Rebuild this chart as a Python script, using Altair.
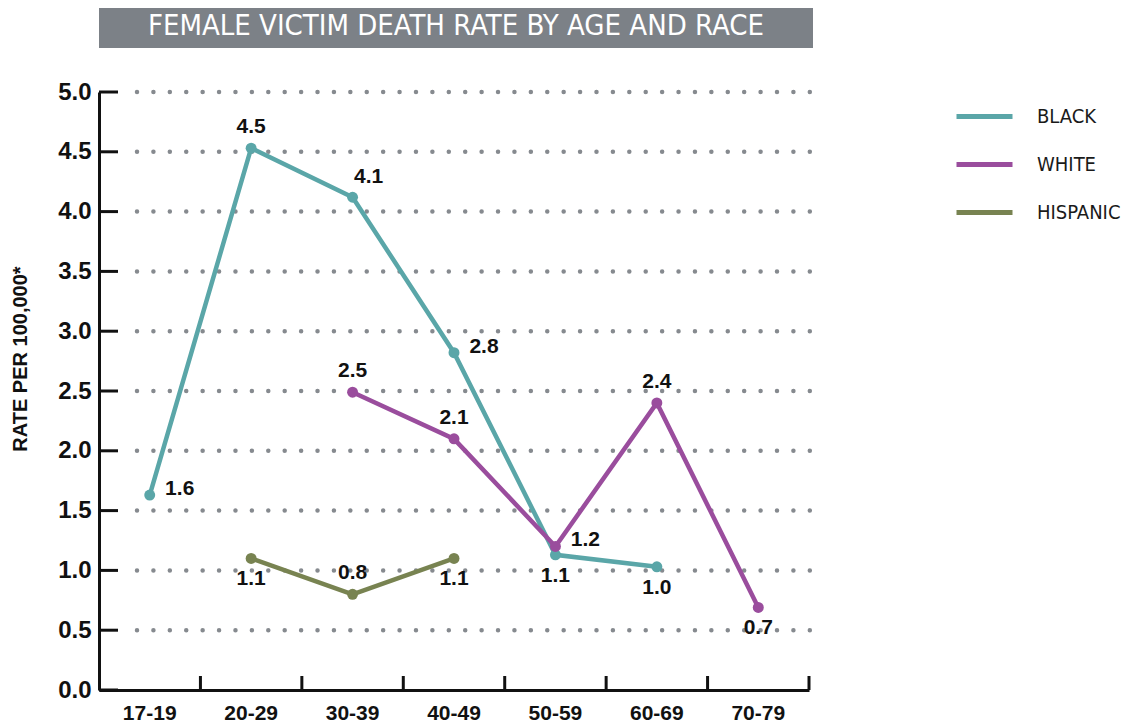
import altair as alt
import pandas as pd

ages = ["17-19", "20-29", "30-39", "40-49", "50-59", "60-69", "70-79"]
races = ["BLACK", "WHITE", "HISPANIC"]
colors = ["#5aa6a8", "#9a4d9d", "#788351"]

black = [1.63, 4.53, 4.12, 2.82, 1.13, 1.03, None]
white = [None, None, 2.49, 2.10, 1.20, 2.40, 0.69]
hispanic = [None, 1.10, 0.80, 1.10, None, None, None]

# label placement keyword per point
black_pos = ["right", "above", "upright", "right", "below", "below", None]
white_pos = [None, None, "above", "above", "right", "above", "below"]
hisp_pos = [None, "below", "above", "below", None, None, None]

grid_vals = [0.5, 1.0, 1.5, 2.0, 2.5, 3.0, 3.5, 4.0, 4.5, 5.0]
y_ticks = [0.0, 0.5, 1.0, 1.5, 2.0, 2.5, 3.0, 3.5, 4.0, 4.5, 5.0]

title_text = "FEMALE VICTIM DEATH RATE BY AGE AND RACE"
y_title = "RATE PER 100,000*"

rows = []
for race, vals, poss in [("BLACK", black, black_pos), ("WHITE", white, white_pos), ("HISPANIC", hispanic, hisp_pos)]:
    for a, v, p in zip(ages, vals, poss):
        if v is not None:
            rows.append({"age": a, "rate": v, "race": race, "pos": p, "label": f"{v:.1f}"})
df = pd.DataFrame(rows)

W, H = 710, 598
NARROW = "Liberation Sans Narrow, DejaVu Sans Condensed, Liberation Sans, sans-serif"
BOLD = "Liberation Sans, Arial, sans-serif"

yscale = alt.Scale(domain=[0, 5], nice=False, zero=True)
xscale = alt.Scale(domain=ages, type="band", paddingInner=0, paddingOuter=0)

x_axis = alt.Axis(title=None, ticks=False, domainColor="#111", domainWidth=3,
                  labelFont=BOLD, labelFontWeight="bold", labelFontSize=21,
                  labelColor="#111", labelPadding=12, labelAngle=0, grid=False)
y_axis = alt.Axis(title=None, values=y_ticks, format=".1f", ticks=False,
                  domainColor="#111", domainWidth=3, grid=False,
                  labelFont=BOLD, labelFontWeight="bold", labelFontSize=24,
                  labelColor="#111", labelPadding=8)

grid = alt.Chart(pd.DataFrame({"rate": grid_vals})).mark_rule(
    color="#868a8f", strokeWidth=4.5, strokeDash=[0.01, 16.4], strokeCap="round"
).encode(
    y=alt.Y("rate:Q", scale=yscale, axis=y_axis),
    x=alt.value(38), x2=alt.value(W + 2),
)

yt = alt.Chart(pd.DataFrame({"rate": y_ticks})).mark_rule(color="#111", strokeWidth=3).encode(
    y=alt.Y("rate:Q", scale=yscale, axis=y_axis),
    x=alt.value(0), x2=alt.value(19),
)

xt = alt.Chart(pd.DataFrame({"age": ages})).mark_rule(color="#111", strokeWidth=3).encode(
    x=alt.X("age:N", scale=xscale, sort=ages, bandPosition=1, axis=x_axis),
    y=alt.value(H - 14), y2=alt.value(H),
)

color = alt.Color(
    "race:N",
    scale=alt.Scale(domain=races, range=colors),
    sort=races,
    legend=alt.Legend(
        title=None, orient="none", legendX=855, legendY=-6,
        symbolType="stroke", symbolSize=3136, symbolStrokeWidth=5,
        labelFont=NARROW, labelFontSize=20, labelColor="#1a1a1a",
        labelOffset=22, rowPadding=7, padding=0,
    ),
)

base = alt.Chart(df).encode(
    x=alt.X("age:N", scale=xscale, sort=ages, axis=x_axis),
    y=alt.Y("rate:Q", scale=yscale, axis=y_axis),
)

lines = base.mark_line(strokeWidth=4.5).encode(color=color, detail="race:N")
points = base.mark_circle(size=120, opacity=1).encode(color=color)

offsets = {"above": (0, -21), "below": (0, 21), "right": (30, -6), "upright": (16, -20)}
texts = []
for pos, (dx, dy) in offsets.items():
    texts.append(
        base.transform_filter(alt.datum.pos == pos).mark_text(
            font=BOLD, fontWeight="bold", fontSize=21, color="#111", dx=dx, dy=dy, baseline="middle"
        ).encode(text="label:N")
    )

one = pd.DataFrame({"t": [title_text], "y": [y_title]})
title_box = alt.Chart(one).mark_rect(color="#7c8187").encode(
    x=alt.value(0), x2=alt.value(714), y=alt.value(-90), y2=alt.value(-44)
)
title_txt = alt.Chart(one).mark_text(
    font=NARROW, fontSize=29, color="white", align="center", baseline="middle"
).encode(x=alt.value(357), y=alt.value(-66), text="t:N")
ytitle = alt.Chart(one).mark_text(
    font=BOLD, fontWeight="bold", fontSize=20, color="#111", angle=270, align="center", baseline="middle"
).encode(x=alt.value(-78), y=alt.value(267), text="y:N")

chart = alt.layer(grid, yt, xt, lines, points, *texts, title_box, title_txt, ytitle).properties(
    width=W, height=H,
    background="white",
    autosize=alt.AutoSizeParams(type="none"),
    padding={"left": 91, "top": 84, "right": 320, "bottom": 38},
).configure_view(stroke=None)

chart.save("out.html", embed_options={"renderer": "svg", "actions": False})
